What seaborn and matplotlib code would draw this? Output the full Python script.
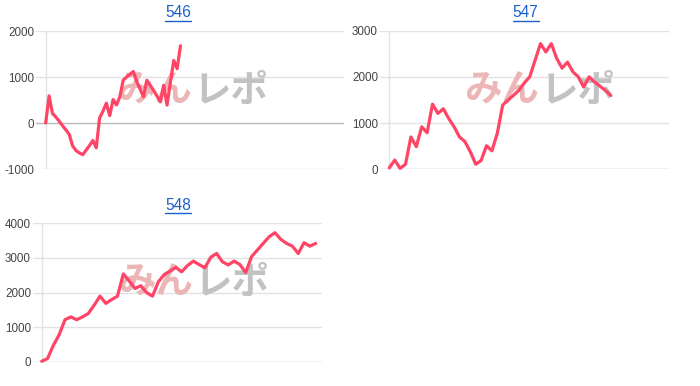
import numpy as np
import pandas as pd
import matplotlib
matplotlib.use("Agg")
import matplotlib.pyplot as plt
from matplotlib.lines import Line2D
import seaborn as sns

# ---- data ----
titles = ["546", "547", "548"]
vals_546 = [0, 590, 210, 130, 40, -60, -150, -250, -500, -600, -650, -690, -590, -490,
            -380, -540, 110, 260, 430, 160, 510, 390, 570, 930, 1000, 1060, 1120, 900,
            740, 570, 930, 820, 710, 590, 460, 820, 390, 880, 1360, 1180, 1680]
vals_547 = [30, 200, 20, 110, 700, 490, 920, 790, 1410, 1210, 1310, 1100, 920, 700,
            600, 380, 110, 190, 510, 400, 780, 1390, 1500, 1600, 1710, 1870, 2000,
            2360, 2720, 2540, 2720, 2400, 2190, 2320, 2110, 2000, 1780, 2000, 1890,
            1800, 1710, 1600]
vals_548 = [20, 100, 480, 790, 1220, 1300, 1220, 1300, 1400, 1640, 1900, 1690, 1800,
            1900, 2540, 2340, 2120, 2200, 2000, 1900, 2310, 2520, 2620, 2730, 2600,
            2780, 2910, 2810, 2720, 3020, 3130, 2890, 2800, 2910, 2810, 2580, 3040,
            3230, 3420, 3610, 3730, 3540, 3420, 3340, 3130, 3440, 3340, 3420]
yticks_546 = [-1000, 0, 1000, 2000]
yticks_547 = [0, 1000, 2000, 3000]
yticks_548 = [0, 1000, 2000, 3000, 4000]
watermark_a = "みん"
watermark_b = "レポ"

series = [vals_546, vals_547, vals_548]
yticks = [yticks_546, yticks_547, yticks_548]

# ---- layout (pixels in a 700x386 canvas) ----
W, H = 700, 386
# (grid left, right, top, bottom, x-origin px, px per step)
boxes = [
    (36, 344, 31, 169, 45.7, 3.37),
    (380, 669.3, 30.7, 169.3, 389.3, 5.40),
    (33, 322, 223.3, 362, 41.7, 5.83),
]
title_pos = [(178, 12.5), (525.7, 12.5), (178, 205)]
wm_pos = [(192, 90), (539, 90), (193, 282)]

LINE = "#ff4466"
LINK = "#1a5fd0"
TXT = "#444444"

sns.set_theme(style="white")
plt.rcParams["font.family"] = ["Liberation Sans", "DejaVu Sans"]

fig = plt.figure(figsize=(W / 100, H / 100), dpi=100)
fig.patch.set_facecolor("white")

title_texts = []
for k in range(3):
    gl, gr, gt, gb, x0, step = boxes[k]
    ax = fig.add_axes([gl / W, 1 - gb / H, (gr - gl) / W, (gb - gt) / H])
    ax.set_facecolor("none")
    vals = series[k]
    df = pd.DataFrame({"idx": np.arange(len(vals)), "value": vals})
    sns.lineplot(data=df, x="idx", y="value", ax=ax, color=LINE, linewidth=2.3,
                 zorder=4, clip_on=False)
    ax.set_xlim(-(x0 - gl) / step, (gr - x0) / step)
    yt = yticks[k]
    ax.set_ylim(yt[0], yt[-1])
    ax.set_yticks(yt)
    ax.set_yticklabels([str(v) for v in yt])
    ax.set_xticks([])
    ax.set_xlabel("")
    ax.set_ylabel("")
    for s in ax.spines.values():
        s.set_visible(False)
    for v in yt:
        col = "#b8b8b8" if v == 0 else "#e2e2e2"
        ax.axhline(v, color=col, linewidth=1.0, zorder=1)
    ax.axvline(0, color="#e2e2e2", linewidth=1.0, zorder=1)
    ax.tick_params(axis="y", length=0, pad=1.5, labelsize=8.4, labelcolor=TXT)

    # watermark
    wx, wy = wm_pos[k]
    ax.text(wx / W, 1 - wy / H, watermark_a, transform=fig.transFigure,
            ha="right", va="center", fontsize=27, fontweight="bold",
            color="#ecb6b6", family=["Noto Sans CJK JP"], zorder=2, clip_on=False)
    ax.text((wx + 2) / W, 1 - wy / H, watermark_b, transform=fig.transFigure,
            ha="left", va="center", fontsize=27, fontweight="bold",
            color="#c2c2c2", family=["Noto Sans CJK JP"], zorder=2, clip_on=False)

    tx, ty = title_pos[k]
    t = fig.text(tx / W, 1 - ty / H, titles[k], ha="center", va="center",
                 fontsize=11.2, color=LINK)
    title_texts.append(t)

# underline the link-style titles
fig.canvas.draw()
r = fig.canvas.get_renderer()
for t in title_texts:
    bb = t.get_window_extent(renderer=r)
    y = bb.y0 - 0.5
    fig.add_artist(Line2D([bb.x0 / W, bb.x1 / W], [y / H, y / H],
                          transform=fig.transFigure, color=LINK, linewidth=1.0))

fig.savefig("out.png", dpi=100, facecolor="white")
